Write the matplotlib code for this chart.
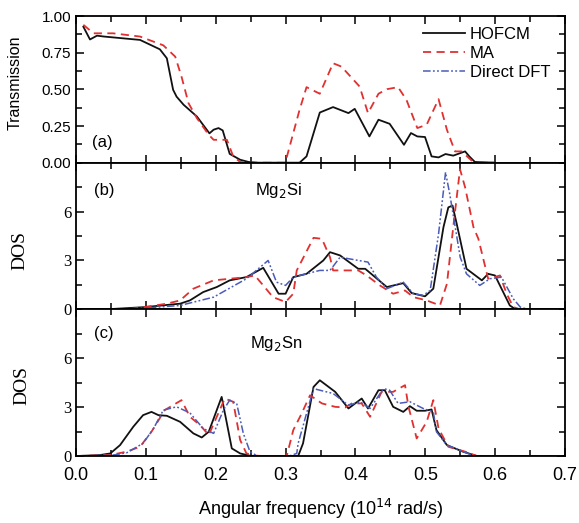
import matplotlib
matplotlib.use("Agg")
import matplotlib.pyplot as plt
from matplotlib.ticker import MultipleLocator

plt.rcParams['font.family'] = ['Liberation Sans', 'DejaVu Sans']

# ---- data ----
# (a) transmission
ta_hof_x = [0.0105, 0.02, 0.03, 0.04, 0.0916, 0.12, 0.13, 0.139, 0.144, 0.154, 0.173, 0.191,
            0.197, 0.204, 0.21, 0.22, 0.235, 0.247, 0.26, 0.32, 0.33, 0.349, 0.368, 0.39,
            0.399, 0.42, 0.433, 0.449, 0.4695, 0.4795, 0.4886, 0.4996, 0.509, 0.519, 0.529,
            0.54, 0.557, 0.563, 0.571, 0.6]
ta_hof_y = [0.927, 0.84, 0.866, 0.86, 0.837, 0.773, 0.712, 0.497, 0.45, 0.395, 0.315, 0.2,
            0.225, 0.236, 0.22, 0.06, 0.02, 0.005, 0.0, 0.0, 0.043, 0.342, 0.379, 0.338,
            0.367, 0.179, 0.293, 0.265, 0.122, 0.202, 0.179, 0.175, 0.043, 0.036, 0.059,
            0.048, 0.077, 0.043, 0.005, 0.0]
ta_ma_x = [0.0105, 0.025, 0.053, 0.0916, 0.125, 0.142, 0.151, 0.161, 0.173, 0.19, 0.197,
           0.216, 0.225, 0.235, 0.245, 0.299, 0.302, 0.32, 0.33, 0.349, 0.368, 0.38, 0.406,
           0.418, 0.433, 0.445, 0.461, 0.473, 0.4886, 0.502, 0.519, 0.531, 0.5425, 0.552,
           0.566, 0.575, 0.6]
ta_ma_y = [0.94, 0.882, 0.882, 0.86, 0.80, 0.723, 0.587, 0.406, 0.304, 0.19, 0.156,
           0.156, 0.043, 0.005, 0.0, 0.0, 0.043, 0.36, 0.515, 0.47, 0.678, 0.655, 0.519,
           0.338, 0.47, 0.501, 0.515, 0.429, 0.236, 0.259, 0.433, 0.224, 0.077, 0.077,
           0.016, 0.0, 0.0]

# (b) Mg2Si DOS
b_hof_x = [0.0, 0.05, 0.099, 0.149, 0.163, 0.182, 0.2015, 0.22, 0.244, 0.268, 0.29, 0.30,
           0.311, 0.33, 0.354, 0.3636, 0.378, 0.404, 0.414, 0.445, 0.4685, 0.4805, 0.4996,
           0.5115, 0.526, 0.533, 0.539, 0.545, 0.559, 0.581, 0.590, 0.5998, 0.621, 0.628,
           0.64, 0.7]
b_hof_y = [0.0, 0.02, 0.14, 0.35, 0.55, 1.06, 1.37, 1.78, 1.98, 2.55, 0.96, 0.96,
           1.98, 2.18, 3.0, 3.51, 3.31, 2.49, 2.49, 1.37, 1.61, 1.0, 0.80,
           1.27, 5.04, 6.26, 6.37, 5.25, 2.49, 1.78, 2.18, 2.08, 0.24, 0.04,
           0.0, 0.0]
b_ma_x = [0.0, 0.08, 0.13, 0.149, 0.168, 0.197, 0.244, 0.256, 0.268, 0.282, 0.30, 0.311,
          0.316, 0.34, 0.352, 0.3636, 0.368, 0.387, 0.404, 0.416, 0.435, 0.454, 0.471,
          0.483, 0.502, 0.521, 0.531, 0.54, 0.5497, 0.557, 0.569, 0.576, 0.590, 0.607,
          0.6165, 0.626, 0.636, 0.7]
b_ma_y = [0.0, 0.02, 0.35, 0.55, 1.27, 1.78, 1.98, 2.08, 1.47, 0.75, 0.45, 0.96,
          2.39, 4.39, 4.33, 3.2, 2.39, 2.39, 2.39, 2.08, 1.47, 0.96, 1.16,
          0.75, 0.55, 0.24, 1.57, 5.04, 8.6, 7.49, 5.04, 4.33, 1.88, 2.08,
          0.96, 0.14, 0.0, 0.0]
b_dft_x = [0.0, 0.05, 0.099, 0.149, 0.197, 0.244, 0.275, 0.287, 0.30, 0.311, 0.349, 0.3636,
           0.378, 0.418, 0.430, 0.445, 0.4685, 0.483, 0.497, 0.507, 0.519, 0.529, 0.535,
           0.55, 0.559, 0.578, 0.5926, 0.609, 0.626, 0.636, 0.647, 0.7]
b_dft_y = [0.0, 0.01, 0.08, 0.24, 0.75, 1.88, 3.0, 1.67, 1.47, 1.98, 2.39, 2.39,
           3.2, 2.9, 1.98, 1.27, 1.67, 0.96, 0.86, 1.16, 4.63, 8.41, 7.08,
           3.2, 2.18, 1.47, 1.88, 1.98, 0.65, 0.14, 0.0, 0.0]

# (c) Mg2Sn DOS
c_hof_x = [0.0, 0.034, 0.049, 0.063, 0.082, 0.096, 0.108, 0.118, 0.13, 0.149, 0.168, 0.18,
           0.19, 0.2085, 0.216, 0.223, 0.235, 0.249, 0.26, 0.318, 0.325, 0.34, 0.349,
           0.371, 0.39, 0.409, 0.418, 0.433, 0.442, 0.454, 0.4685, 0.478, 0.4877, 0.4996,
           0.509, 0.516, 0.531, 0.554, 0.574, 0.7]
c_hof_y = [0.0, 0.06, 0.16, 0.67, 1.8, 2.51, 2.71, 2.51, 2.47, 2.1, 1.39, 1.14,
           1.49, 3.63, 2.0, 0.47, 0.16, 0.02, 0.0, 0.0, 0.78, 4.24, 4.65,
           3.94, 2.92, 3.53, 2.92, 4.04, 4.04, 3.02, 2.71, 3.06, 2.78, 2.78,
           2.86, 1.59, 0.67, 0.27, 0.0, 0.0]
c_ma_x = [0.0, 0.049, 0.0725, 0.0916, 0.108, 0.127, 0.151, 0.163, 0.1775, 0.19, 0.2015,
          0.213, 0.225, 0.235, 0.244, 0.259, 0.27, 0.298, 0.302, 0.311, 0.323, 0.335,
          0.352, 0.371, 0.385, 0.395, 0.409, 0.421, 0.4375, 0.454, 0.471, 0.476, 0.4877,
          0.502, 0.5115, 0.519, 0.533, 0.557, 0.574, 0.7]
c_ma_y = [0.0, 0.06, 0.27, 0.57, 1.49, 2.82, 3.43, 2.41, 1.9, 1.29, 2.41,
          3.53, 3.33, 0.98, 0.16, 0.02, 0.0, 0.0, 0.06, 1.59, 2.61, 3.73,
          3.23, 3.02, 2.98, 3.23, 3.23, 2.41, 3.94, 3.94, 4.35, 3.02, 1.08,
          2.1, 3.43, 1.69, 0.57, 0.27, 0.0, 0.0]
c_dft_x = [0.0, 0.053, 0.0725, 0.096, 0.111, 0.125, 0.144, 0.163, 0.182, 0.197, 0.211,
           0.22, 0.23, 0.2395, 0.249, 0.259, 0.27, 0.305, 0.316, 0.318, 0.33, 0.34,
           0.349, 0.368, 0.39, 0.4065, 0.421, 0.44, 0.449, 0.461, 0.478, 0.497, 0.5115,
           0.516, 0.531, 0.554, 0.571, 0.7]
c_dft_y = [0.0, 0.06, 0.2, 0.78, 1.69, 2.82, 3.02, 2.65, 1.69, 1.39, 2.82,
           3.43, 3.23, 1.39, 0.27, 0.02, 0.0, 0.0, 0.16, 0.78, 2.61, 4.14,
           4.04, 3.84, 3.12, 3.33, 2.92, 4.14, 4.04, 3.23, 3.33, 2.92, 2.71,
           1.49, 0.67, 0.27, 0.0, 0.0]

x_ticks = [0.0, 0.1, 0.2, 0.3, 0.4, 0.5, 0.6, 0.7]

# ---- styles ----
black = '#111111'
red = '#e03030'
blue = '#4a5cb8'
sty_hof = dict(color=black, lw=1.3, ls='-')
sty_ma = dict(color=red, lw=1.3, ls=(0, (4.5, 3)))
sty_dft = dict(color=blue, lw=1.1, ls=(0, (5, 1.5, 1.2, 1.5, 1.2, 1.5)))

fig = plt.figure(figsize=(5.79, 5.23), dpi=100)
gs = fig.add_gridspec(3, 1, left=0.1313, right=0.9758, top=0.9694, bottom=0.128, hspace=0)
axa = fig.add_subplot(gs[0])
axb = fig.add_subplot(gs[1], sharex=axa)
axc = fig.add_subplot(gs[2], sharex=axa)

axa.plot(ta_hof_x, ta_hof_y, label='HOFCM', **sty_hof)
axa.plot(ta_ma_x, ta_ma_y, label='MA', **sty_ma)
axa.plot([], [], label='Direct DFT', **sty_dft)

axb.plot(b_hof_x, b_hof_y, **sty_hof)
axb.plot(b_ma_x, b_ma_y, **sty_ma)
axb.plot(b_dft_x, b_dft_y, **sty_dft)

axc.plot(c_hof_x, c_hof_y, **sty_hof)
axc.plot(c_ma_x, c_ma_y, **sty_ma)
axc.plot(c_dft_x, c_dft_y, **sty_dft)

for ax in (axa, axb, axc):
    ax.set_xlim(0, 0.7)
    ax.set_xticks(x_ticks)
    ax.xaxis.set_minor_locator(MultipleLocator(0.05))
    ax.tick_params(which='both', direction='in', top=True, right=True, width=1.1,
                   labelsize=11)
    ax.tick_params(which='major', length=5.5)
    ax.tick_params(which='minor', length=4)
    for sp in ax.spines.values():
        sp.set_linewidth(1.3)

axa.set_ylim(0, 1.0)
axa.set_yticks([0.0, 0.25, 0.5, 0.75, 1.0])
axa.set_yticklabels(['0.00', '0.25', '0.50', '0.75', '1.00'])
axa.yaxis.set_minor_locator(MultipleLocator(0.125))
for ax in (axb, axc):
    ax.set_ylim(0, 9)
    ax.set_yticks([0, 3, 6])
    ax.yaxis.set_minor_locator(MultipleLocator(1.5))

axa.tick_params(labelbottom=False)
axb.tick_params(labelbottom=False)
axc.set_xticklabels(['0.0', '0.1', '0.2', '0.3', '0.4', '0.5', '0.6', '0.7'], fontsize=13)
axc.tick_params(axis='x', pad=8)

axa.set_ylabel('Transmission', fontsize=11.5)
axa.yaxis.set_label_coords(-0.11, 0.544)
axb.set_ylabel('DOS', fontsize=14, family='Liberation Serif')
axb.yaxis.set_label_coords(-0.098, 0.40)
axc.set_ylabel('DOS', fontsize=14, family='Liberation Serif')
axc.yaxis.set_label_coords(-0.094, 0.48)
for ax in (axb, axc):
    for lab in ax.get_yticklabels():
        lab.set_family('Liberation Serif')
        lab.set_fontsize(12)

axc.set_xlabel('Angular frequency (10$^{14}$ rad/s)', fontsize=13, labelpad=9)

axa.text(0.033, 0.136, '(a)', transform=axa.transAxes, fontsize=12, va='center')
axb.text(0.036, 0.81, '(b)', transform=axb.transAxes, fontsize=12, va='center')
axb.text(0.366, 0.81, 'Mg$_2$Si', transform=axb.transAxes, fontsize=12, va='center')
axc.text(0.036, 0.837, '(c)', transform=axc.transAxes, fontsize=12, va='center')
axc.text(0.356, 0.77, 'Mg$_2$Sn', transform=axc.transAxes, fontsize=12, va='center')

axa.legend(loc='upper right', frameon=False, fontsize=12, handlelength=2.5,
           handletextpad=0.3, labelspacing=0.25, borderaxespad=0.2,
           bbox_to_anchor=(0.99, 0.995))

fig.savefig('out.png', dpi=100)
